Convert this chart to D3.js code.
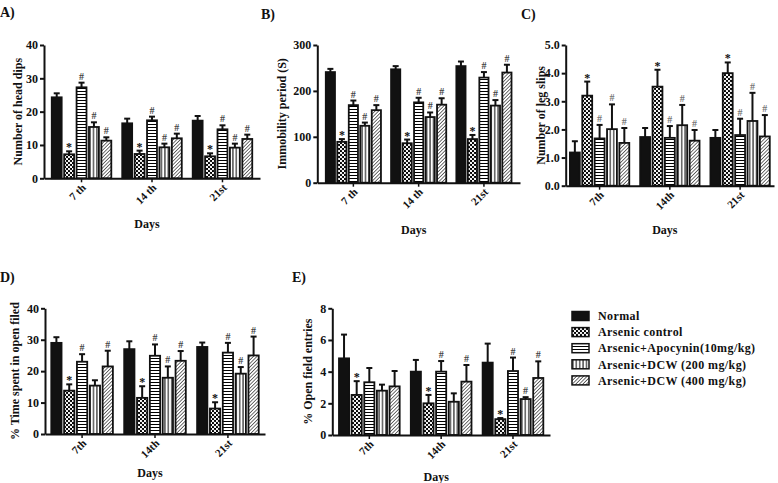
<!DOCTYPE html>
<html>
<head>
<meta charset="utf-8">
<script src="https://cdn.jsdelivr.net/npm/d3@7/dist/d3.min.js"></script>
<style>
  html, body { margin: 0; padding: 0; background: #fff; }
  svg { display: block; }
  text { font-family: "Liberation Serif", "Times New Roman", serif; font-weight: bold; }
</style>
</head>
<body>
<svg id="chart" width="778" height="483"></svg>
<script>
// ---------------- DATA ----------------
const groups = ["Normal", "Arsenic control", "Arsenic+Apocynin(10mg/kg)", "Arsenic+DCW (200 mg/kg)", "Arsenic+DCW (400 mg/kg)"];
const daysAB = ["7 th", "14 th", "21st"];
const daysCDE = ["7th", "14th", "21st"];

// A) Number of head dips  [day][group]
const headDipsMean = [[24.3, 7.2, 27.3, 15.4, 11.3], [16.5, 7.3, 17.4, 9.3, 12.0], [17.3, 6.6, 14.7, 9.2, 11.8]];
const headDipsErr  = [[1.2, 0.9, 1.4, 1.4, 1.0], [1.4, 1.0, 1.1, 1.1, 1.4], [1.4, 0.9, 1.2, 1.2, 1.3]];
const headDipsMarks = [["", "*", "#", "#", "#"], ["", "*", "#", "#", "#"], ["", "*", "#", "#", "#"]];
const headDipsTicks = [0, 10, 20, 30, 40];

// B) Immobility period (S)
const immobMean = [[241, 89, 169, 124, 158], [247, 86, 175, 143, 170], [254, 95, 229, 168, 240]];
const immobErr  = [[7, 6, 10, 7, 11], [7, 8, 10, 10, 14], [10, 9, 12, 12, 17]];
const immobMarks = [["", "*", "#", "#", "#"], ["", "*", "#", "#", "#"], ["", "*", "#", "#", "#"]];
const immobTicks = [0, 100, 200, 300];

// C) Number of leg slips
const legSlipsMean = [[1.18, 3.2, 1.68, 2.01, 1.52], [1.73, 3.52, 1.7, 2.15, 1.6], [1.7, 4.0, 1.8, 2.3, 1.75]];
const legSlipsErr  = [[0.4, 0.5, 0.48, 0.88, 0.53], [0.32, 0.6, 0.42, 0.72, 0.38], [0.28, 0.38, 0.58, 1.0, 0.76]];
const legSlipsMarks = [["", "*", "#", "#", "#"], ["", "*", "#", "#", "#"], ["", "*", "#", "#", "#"]];
const legSlipsTicks = [0, 1, 2, 3, 4, 5];

// D) % Time spent in open filed
const timeOpenMean = [[29.0, 13.8, 23.0, 15.4, 21.5], [27.0, 11.5, 24.9, 17.9, 23.3], [27.7, 8.1, 25.9, 19.2, 25.0]];
const timeOpenErr  = [[1.8, 2.0, 2.4, 1.7, 5.0], [2.5, 3.7, 3.6, 3.6, 3.1], [1.4, 2.0, 3.1, 2.1, 6.0]];
const timeOpenMarks = [["", "*", "#", "", "#"], ["", "*", "#", "#", "#"], ["", "*", "#", "#", "#"]];
const timeOpenTicks = [0, 10, 20, 30, 40];

// E) % Open field entries
const entriesMean = [[4.84, 2.53, 3.33, 2.8, 3.07], [4.0, 2.0, 4.0, 2.1, 3.37], [4.57, 1.0, 4.04, 2.27, 3.6]];
const entriesErr  = [[1.5, 0.87, 0.9, 0.38, 0.97], [0.74, 0.53, 0.67, 0.53, 1.05], [1.2, 0.07, 0.85, 0.12, 1.05]];
const entriesMarks = [["", "*", "", "", ""], ["", "*", "#", "", "#"], ["", "*", "#", "#", "#"]];
const entriesTicks = [0, 2, 4, 6, 8];

// ---------------- LAYOUT ----------------
const panels = [
  { label: "A)", lx: 0, ly: 17, title: "Number of head dips", days: daysAB, mean: headDipsMean, err: headDipsErr, marks: headDipsMarks, ticks: headDipsTicks,
    x0: 44, x1: 260, yTop: 45, yBot: 178.3, padOuter: 0.11, titleX: 18, daysY: 228, markColor: "#444" },
  { label: "B)", lx: 261, ly: 19, title: "Immobility period (S)", days: daysAB, mean: immobMean, err: immobErr, marks: immobMarks, ticks: immobTicks,
    x0: 317.3, x1: 520, yTop: 45, yBot: 182.7, padOuter: 0.13, titleX: 282, daysY: 234, markColor: "#444" },
  { label: "C)", lx: 521, ly: 19, title: "Number of leg slips", days: daysCDE, mean: legSlipsMean, err: legSlipsErr, marks: legSlipsMarks, ticks: legSlipsTicks,
    x0: 565.7, x1: 774, yTop: 45, yBot: 185.7, padOuter: 0.06, titleX: 541, daysY: 234, markColor: "#777" },
  { label: "D)", lx: 0, ly: 282, title: "% Time spent in open filed", days: daysCDE, mean: timeOpenMean, err: timeOpenErr, marks: timeOpenMarks, ticks: timeOpenTicks,
    x0: 45, x1: 265, yTop: 308.3, yBot: 434, padOuter: 0.086, titleX: 15, daysY: 477, markColor: "#444" },
  { label: "E)", lx: 292, ly: 282, title: "% Open field entries", days: daysCDE, mean: entriesMean, err: entriesErr, marks: entriesMarks, ticks: entriesTicks,
    x0: 332.3, x1: 550, yTop: 308.3, yBot: 435, padOuter: 0.093, titleX: 308, daysY: 481, markColor: "#444" }
];

const svg = d3.select("#chart");
const defs = svg.append("defs");

// Patterns
const pChk = defs.append("pattern").attr("id", "pat1").attr("patternUnits", "userSpaceOnUse").attr("width", 4).attr("height", 4);
pChk.append("rect").attr("width", 4).attr("height", 4).attr("fill", "#000");
pChk.append("circle").attr("cx", 1).attr("cy", 1).attr("r", 1.15).attr("fill", "#fff");
pChk.append("circle").attr("cx", 3).attr("cy", 3).attr("r", 1.15).attr("fill", "#fff");

const pH = defs.append("pattern").attr("id", "pat2").attr("patternUnits", "userSpaceOnUse").attr("width", 4).attr("height", 3);
pH.append("rect").attr("width", 4).attr("height", 3).attr("fill", "#fff");
pH.append("line").attr("x1", 0).attr("x2", 4).attr("y1", 1.5).attr("y2", 1.5).attr("stroke", "#000").attr("stroke-width", 1);

const pV = defs.append("pattern").attr("id", "pat3").attr("patternUnits", "userSpaceOnUse").attr("width", 3.4).attr("height", 4);
pV.append("rect").attr("width", 3.4).attr("height", 4).attr("fill", "#fff");
pV.append("line").attr("y1", 0).attr("y2", 4).attr("x1", 1.7).attr("x2", 1.7).attr("stroke", "#000").attr("stroke-width", 1);

const pD = defs.append("pattern").attr("id", "pat4").attr("patternUnits", "userSpaceOnUse").attr("width", 2.5).attr("height", 2.5)
  .attr("patternTransform", "rotate(45)");
pD.append("rect").attr("width", 2.5).attr("height", 2.5).attr("fill", "#fff");
pD.append("line").attr("y1", 0).attr("y2", 2.5).attr("x1", 1.25).attr("x2", 1.25).attr("stroke", "#333").attr("stroke-width", 0.7);

const fills = ["#111", "url(#pat1)", "url(#pat2)", "url(#pat3)", "url(#pat4)"];

panels.forEach(p => {
  const g = svg.append("g");
  const yMax = p.ticks[p.ticks.length - 1];
  const y = d3.scaleLinear().domain([0, yMax]).range([p.yBot, p.yTop]);
  const x = d3.scaleBand().domain(p.days).range([p.x0, p.x1]).paddingInner(0.155).paddingOuter(p.padOuter);
  const xs = d3.scaleBand().domain(d3.range(groups.length)).range([0, x.bandwidth()]).paddingInner(0.2);

  // bars
  p.days.forEach((day, di) => {
    groups.forEach((gr, gi) => {
      const bx = x(day) + xs(gi);
      const bw = xs.bandwidth();
      const v = p.mean[di][gi], e = p.err[di][gi];
      const cx = bx + bw / 2;
      // error bar (upwards only)
      g.append("line").attr("x1", cx).attr("x2", cx).attr("y1", y(v)).attr("y2", y(v + e))
        .attr("stroke", "#111").attr("stroke-width", 2);
      g.append("line").attr("x1", cx - 3).attr("x2", cx + 3).attr("y1", y(v + e)).attr("y2", y(v + e))
        .attr("stroke", "#111").attr("stroke-width", 2);
      g.append("rect").attr("x", bx).attr("y", y(v)).attr("width", bw).attr("height", y(0) - y(v))
        .attr("fill", fills[gi]).attr("stroke", "#111").attr("stroke-width", 1.8);
      const m = p.marks[di][gi];
      if (m) {
        g.append("text").attr("x", cx).attr("y", y(v + e) - (m === "*" ? 0 : 3))
          .attr("text-anchor", "middle")
          .attr("font-size", m === "*" ? 12 : 10)
          .attr("font-weight", m === "*" ? "bold" : "normal")
          .attr("fill", m === "*" ? "#111" : p.markColor)
          .text(m);
      }
    });
  });

  // y axis
  const ya = g.append("g").attr("transform", `translate(${p.x0},0)`)
    .call(d3.axisLeft(y).tickValues(p.ticks).tickSize(4).tickSizeOuter(0).tickPadding(2));
  ya.select(".domain").attr("stroke", "#111").attr("stroke-width", 2);
  ya.selectAll(".tick line").attr("stroke", "#111").attr("stroke-width", 2);
  ya.selectAll(".tick text").attr("font-size", 12).attr("font-family", "Liberation Serif").attr("font-weight", "bold").attr("fill", "#111");

  // x axis
  const xa = g.append("g").attr("transform", `translate(0,${p.yBot})`)
    .call(d3.axisBottom(x).tickSize(4).tickSizeOuter(0));
  xa.select(".domain").attr("stroke", "#111").attr("stroke-width", 2);
  xa.selectAll(".tick line").attr("stroke", "#111").attr("stroke-width", 1.5);
  xa.selectAll(".tick text")
    .attr("font-size", 11).attr("font-family", "Liberation Serif").attr("font-weight", "bold").attr("fill", "#111")
    .attr("text-anchor", "end").attr("dy", null)
    .attr("transform", "translate(5,10) rotate(-45)")
    .attr("y", 0).attr("x", 0);

  // axis titles
  g.append("text").attr("transform", `translate(${p.titleX},${(p.yTop + p.yBot) / 2}) rotate(-90)`)
    .attr("text-anchor", "middle").attr("dy", "0.35em").attr("font-size", 12).attr("fill", "#111").text(p.title);
  const mid = x(p.days[1]) + x.bandwidth() / 2;
  g.append("text").attr("x", mid - 5).attr("y", p.daysY).attr("text-anchor", "middle")
    .attr("font-size", 12).attr("fill", "#111").text("Days");
  g.append("text").attr("x", p.lx).attr("y", p.ly).attr("font-size", 14).attr("fill", "#111").text(p.label);
});

// legend
const lg = svg.append("g");
groups.forEach((gr, i) => {
  const ly = 316 + i * 16.1;
  lg.append("rect").attr("x", 572).attr("y", ly - 4.5).attr("width", 17).attr("height", 9)
    .attr("fill", fills[i]).attr("stroke", "#111").attr("stroke-width", 1.5);
  lg.append("text").attr("x", 598).attr("y", ly).attr("dy", "0.35em").attr("font-size", 12)
    .attr("letter-spacing", "0.4px").attr("fill", "#111").text(gr);
});
</script>
</body>
</html>
